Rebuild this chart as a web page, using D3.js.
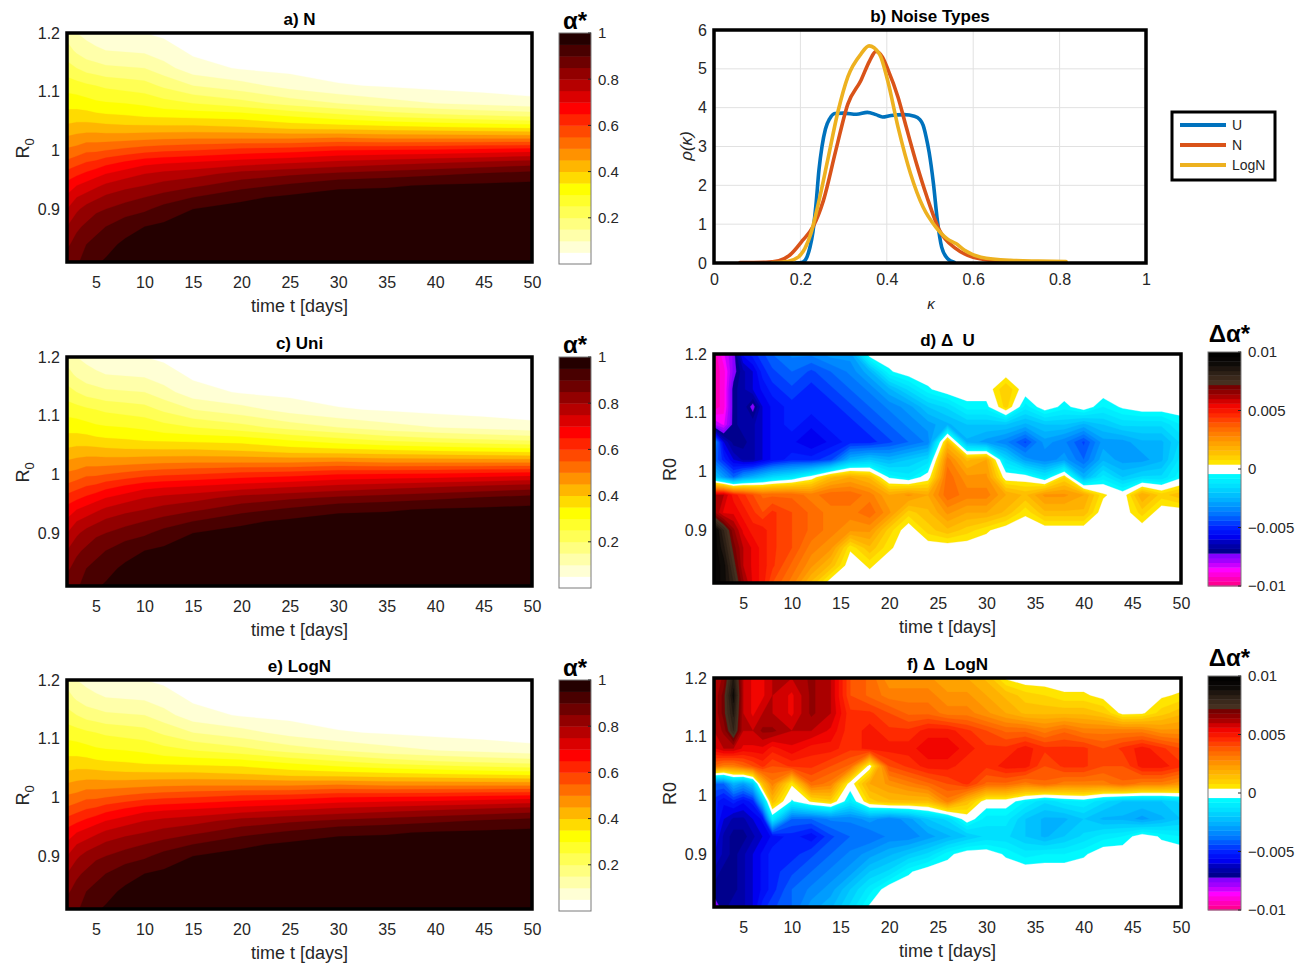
<!DOCTYPE html>
<html>
<head>
<meta charset="utf-8">
<script src="https://cdn.jsdelivr.net/npm/d3@7"></script>
<style>
  body { margin: 0; background: #fff; }
  svg text { font-family: "Liberation Sans", Arial, Helvetica, sans-serif; }
</style>
</head>
<body>
<svg id="fig" width="1297" height="969"></svg>
<script>
// ---------- data ----------
// alpha* grid (panels a, c, e): one column per day in tDays, each column runs over r0Rows (top -> bottom)
const tDays = [2, 3, 4, 5, 6, 8, 10, 12, 15, 20, 25, 30, 35, 40, 45, 50];
const r0Rows = [1.2, 1.17, 1.14, 1.11, 1.08, 1.06, 1.04, 1.02, 1.0, 0.98, 0.96, 0.94, 0.92, 0.9, 0.87, 0.84, 0.81];
const alphaN = [
  [0.13, 0.17, 0.22, 0.28, 0.33, 0.37, 0.41, 0.46, 0.51, 0.56, 0.62, 0.67, 0.71, 0.75, 0.80, 0.84, 0.88],
  [0.10, 0.14, 0.20, 0.27, 0.33, 0.37, 0.42, 0.47, 0.52, 0.58, 0.64, 0.70, 0.75, 0.79, 0.84, 0.87, 0.89],
  [0.085, 0.12, 0.18, 0.26, 0.32, 0.37, 0.42, 0.48, 0.54, 0.60, 0.66, 0.72, 0.77, 0.82, 0.86, 0.90, 0.925],
  [0.07, 0.11, 0.17, 0.25, 0.31, 0.36, 0.42, 0.48, 0.54, 0.61, 0.68, 0.74, 0.79, 0.84, 0.88, 0.92, 0.945],
  [0.065, 0.10, 0.16, 0.24, 0.305, 0.355, 0.415, 0.48, 0.55, 0.63, 0.70, 0.76, 0.81, 0.85, 0.90, 0.935, 0.955],
  [0.055, 0.095, 0.155, 0.23, 0.30, 0.35, 0.41, 0.485, 0.565, 0.655, 0.725, 0.785, 0.83, 0.875, 0.93, 0.96, 0.97],
  [0.05, 0.09, 0.15, 0.22, 0.29, 0.34, 0.41, 0.49, 0.58, 0.68, 0.75, 0.80, 0.85, 0.89, 0.95, 0.97, 0.98],
  [0.04, 0.07, 0.12, 0.19, 0.27, 0.335, 0.41, 0.495, 0.59, 0.69, 0.765, 0.82, 0.87, 0.92, 0.96, 0.975, 0.985],
  [0.03, 0.04, 0.07, 0.15, 0.25, 0.33, 0.41, 0.50, 0.60, 0.70, 0.78, 0.84, 0.90, 0.95, 0.97, 0.98, 0.99],
  [0.01, 0.02, 0.045, 0.12, 0.22, 0.32, 0.40, 0.50, 0.62, 0.72, 0.82, 0.88, 0.94, 0.965, 0.98, 0.99, 0.99],
  [0.005, 0.015, 0.035, 0.08, 0.18, 0.29, 0.38, 0.50, 0.63, 0.74, 0.84, 0.91, 0.96, 0.975, 0.985, 0.99, 0.99],
  [0, 0.01, 0.025, 0.055, 0.15, 0.26, 0.37, 0.51, 0.65, 0.76, 0.86, 0.94, 0.97, 0.98, 0.99, 0.99, 0.99],
  [0, 0.007, 0.02, 0.045, 0.12, 0.23, 0.36, 0.50, 0.655, 0.775, 0.875, 0.945, 0.97, 0.98, 0.99, 0.99, 0.99],
  [0, 0.005, 0.015, 0.035, 0.10, 0.21, 0.35, 0.50, 0.66, 0.79, 0.89, 0.955, 0.975, 0.985, 0.99, 0.99, 0.99],
  [0, 0.003, 0.012, 0.027, 0.085, 0.195, 0.34, 0.50, 0.67, 0.805, 0.905, 0.96, 0.978, 0.988, 0.993, 0.993, 0.993],
  [0, 0, 0.01, 0.02, 0.07, 0.18, 0.33, 0.50, 0.68, 0.82, 0.92, 0.965, 0.98, 0.99, 0.995, 0.995, 0.995]
];
// Uni and LogN differ from N by <= 0.01 (panels d, f), which does not show at this colour step
const alphaUni = alphaN;
const alphaLogN = alphaN;

// delta alpha* grids (panels d, f), in units of 1e-3; rows follow r0Delta, columns follow tDelta
const tDelta = [2, 3, 4, 5, 6, 7, 8, 10, 12, 14, 16, 18, 20, 22, 24, 26, 28, 30, 32, 34, 36, 38, 40, 42, 44, 46, 48, 50];
const r0Delta = [1.2, 1.17, 1.14, 1.11, 1.08, 1.05, 1.02, 0.99, 0.96, 0.93, 0.9, 0.87, 0.84, 0.81];
const deltaU = [
  [-9.5, -8.5, -7.5, -5.5, -5, -4.5, -4, -3.5, -3.5, -3, -3, 0, 0, 0, 0, 0, 0, 0, 0, 0, 0, 0, 0, 0, 0, 0, 0, 0],
  [-9.5, -9, -7.5, -6.5, -6, -5, -4.5, -4, -4.5, -4, -3.5, -2.5, -0.5, 0, 0, 0, 0, 0, 0, 0, 0, 0, 0, 0, 0, 0, 0, 0],
  [-9.5, -9, -7, -6.5, -6, -5.5, -5, -4.5, -5, -4.5, -4, -3.5, -2.5, -1.5, -0.5, 0, 0, 0, 1.2, 0, 0, 0, 0, 0, 0, 0, 0, 0],
  [-9.5, -9, -7, -6.5, -7.5, -6, -5.5, -5, -5, -5, -4.5, -4, -3.5, -3, -2, -1.5, -0.6, -0.6, 1, -1, 0, -0.6, 0, -0.8, -0.3, 0, 0, 0],
  [-8, -8.5, -7, -6.5, -6.5, -6, -5.5, -5, -5.5, -5, -5, -4.5, -4, -3.5, -3, -2.5, -2, -2, -2, -2.5, -2, -2, -2.5, -2, -1.5, -1.5, -1.5, -0.8],
  [-3, -6, -7, -7, -6.5, -6, -5.5, -5.5, -6, -5.5, -5, -5, -4.5, -4, -3.5, 1.5, -2.5, -3, -3.5, -4.5, -3, -3.5, -4.5, -3, -3, -2.5, -2.5, -1.5],
  [-4, -5, -6, -6.5, -6.5, -6, -5.5, -5, -5, -4.5, -2.5, -2, -2.5, -2, -1.5, 3, 1.5, 2, -1.5, -3, -3.5, -3, -4, -2.5, -3, -3, -2.5, -1],
  [-2, -3, -4, -3, -2.5, -2, -1.5, -1, 0, 1.5, 2, 1.5, -0.5, -1, 0, 3.5, 2.5, 2.5, 0, 0, -1, 0.8, -2.5, -1, -2, -1.5, -1.5, -0.5],
  [6, 6, 5, 4.5, 4, 3.5, 3.5, 3.5, 3, 3.5, 3.5, 3, 2, 2.5, 2, 3.5, 3, 3, 2, 1.5, 2.5, 2.5, 2, 0.5, 0, 2, 1, 1.5],
  [6.5, 5.5, 5.5, 5, 4.5, 4, 4.5, 4, 3.5, 3, 3, 3.5, 2.5, 1, 1.5, 2.5, 2, 2, 1.5, 0.5, 1.5, 1.5, 1.5, 0, 0, 1, 0, 0],
  [9.5, 8, 6.5, 5.5, 5, 5, 4.5, 4, 3.5, 3, 2.5, 2.5, 1, 0, 1, 1.5, 1, 0.5, 0, 0, 0, 0, 0, 0, 0, 0, 0, 0],
  [9.5, 8.5, 7, 6, 5.5, 5, 4.5, 4, 3, 2.5, 0.5, 1.5, 0.5, 0, 0, 0, 0, 0, 0, 0, 0, 0, 0, 0, 0, 0, 0, 0],
  [9.5, 9, 7.5, 6, 5.5, 5, 4.5, 3.5, 2.5, 1.5, 0, 0.5, 0, 0, 0, 0, 0, 0, 0, 0, 0, 0, 0, 0, 0, 0, 0, 0],
  [9.5, 9, 8, 6.5, 5.5, 5, 4, 3, 1.5, 0, 0, 0, 0, 0, 0, 0, 0, 0, 0, 0, 0, 0, 0, 0, 0, 0, 0, 0]
];
const deltaLogN = [
  [6, 6.5, 8.5, 6, 5.5, 5.5, 6, 6, 6.5, 6, 4, 3.5, 2.5, 2.5, 2.5, 2, 2, 1.5, 0.3, 0, 0, 0, 0, 0, 0, 0, 0, 0],
  [6, 7, 9, 6, 5.5, 5.5, 6, 5.5, 6.5, 6, 4, 3.5, 3, 3, 3, 2.5, 2.5, 2, 1.5, 1, 0.8, 0.5, 0.5, 0.2, 0, 0, 0.3, 0.5],
  [6, 7, 8.5, 6, 5.5, 6, 6, 5.5, 6.5, 6, 4.5, 4.5, 4, 3.5, 3.5, 3, 3, 2.5, 2, 1.5, 1.5, 1.5, 1.5, 1.2, 0.2, 0.3, 1, 1.5],
  [6, 6.5, 8, 6, 6, 6.5, 6.5, 6, 6, 5.5, 4.5, 5, 4.5, 4.5, 5, 5, 4.5, 4, 3.5, 3.5, 3, 3.5, 3, 3, 3, 3, 2.5, 2.5],
  [5.5, 6, 6, 5.5, 5.5, 5.5, 5, 5.5, 5, 5, 4.5, 5, 5, 5, 5.5, 5.5, 5, 4.5, 4.5, 5, 4.5, 4.5, 4.5, 4, 4.5, 5, 4.5, 4],
  [3.5, 3, 3, 3.5, 4, 4.5, 4, 4.5, 4.5, 4, 3.5, 0, 4, 4.5, 5, 5, 4.5, 4.5, 5, 5, 4, 4.5, 4.5, 4, 4, 5, 5, 4.5],
  [-4, -4, -2.5, -3, -2, 1.5, 3, 0.5, 3.5, 3, 0, 2, 2.5, 3, 3.5, 4, 4.5, 3.5, 3.5, 3, 3.5, 3, 3, 3, 3.5, 3, 3, 2.5],
  [-5, -5.5, -5, -5.5, -5, -2, 1.5, -0.5, 0.5, 1, -1, 1, 1.5, 1.5, 1.5, 3, 1.5, 0, 0, -0.8, -1.5, -1, -0.8, -1.5, -2, -2, -2, -1.5],
  [-5, -6, -6.5, -6.5, -6, -5.5, -1, -4, -4, -3.5, -3.5, -3, -3.5, -3, -2, -1.5, 0, -1, -1, -2, -2.5, -2.5, -2, -2.5, -2.5, -3, -2.5, -2],
  [-5.5, -6.5, -7, -7, -6.5, -6, -5.5, -5, -5.5, -4.5, -4, -4, -3.5, -3.5, -3, -2.5, -2, -1.5, -1.5, -2, -2.5, -2, -1.5, -1, -0.8, 0, -0.5, -0.8],
  [-6, -6.5, -7, -6.5, -6, -5.5, -5, -5, -4.5, -4, -3.5, -3, -2.5, -2, -1.5, -0.6, 0, 0, -0.5, -1, -0.8, -0.8, -0.5, 0, 0, 0, 0, 0],
  [-6.5, -7, -7, -6.5, -6, -5.5, -5, -4.5, -4, -3.5, -3, -2, -1.5, -0.5, 0, 0, 0, 0, 0, 0, 0, 0, 0, 0, 0, 0, 0, 0],
  [-7, -7, -7, -6.5, -6, -5.5, -5, -4, -3.5, -3, -2, -1, 0, 0, 0, 0, 0, 0, 0, 0, 0, 0, 0, 0, 0, 0, 0, 0],
  [-7.5, -7, -6.5, -6.5, -6, -5, -4.5, -4, -3, -2.5, -1.5, -0.3, 0, 0, 0, 0, 0, 0, 0, 0, 0, 0, 0, 0, 0, 0, 0, 0]
];

// noise densities (panel b): [kappa, rho]
const noiseU = [[0.19, 0], [0.205, 0.02], [0.215, 0.15], [0.222, 0.4], [0.229, 0.8], [0.236, 1.5], [0.243, 2.4],
  [0.25, 3.0], [0.258, 3.45], [0.268, 3.72], [0.28, 3.85], [0.3, 3.86], [0.33, 3.83], [0.355, 3.88], [0.375, 3.82],
  [0.39, 3.76], [0.41, 3.8], [0.44, 3.82], [0.464, 3.78], [0.476, 3.7], [0.484, 3.55], [0.491, 3.25], [0.498, 2.85],
  [0.508, 2.04], [0.517, 1.1], [0.527, 0.41], [0.541, 0.11], [0.556, 0.02]];
const noiseN = [[0.06, 0.01], [0.12, 0.02], [0.15, 0.06], [0.175, 0.2], [0.205, 0.58], [0.229, 0.93], [0.253, 1.6],
  [0.282, 2.9], [0.31, 4.1], [0.34, 4.7], [0.36, 5.2], [0.375, 5.45], [0.39, 5.3], [0.402, 5.0], [0.426, 4.27],
  [0.445, 3.5], [0.469, 2.55], [0.493, 1.7], [0.522, 0.84], [0.56, 0.37], [0.6, 0.15], [0.66, 0.05], [0.72, 0.02]];
const noiseLogN = [[0.135, 0.01], [0.17, 0.04], [0.195, 0.15], [0.224, 0.75], [0.243, 1.6], [0.263, 2.64], [0.287, 3.9],
  [0.31, 4.8], [0.34, 5.38], [0.359, 5.59], [0.383, 5.38], [0.402, 4.7], [0.426, 3.5], [0.455, 2.3], [0.484, 1.44],
  [0.513, 0.93], [0.54, 0.62], [0.56, 0.5], [0.58, 0.33], [0.618, 0.15], [0.686, 0.07], [0.75, 0.05], [0.815, 0.04]];

// ticks
const timeTicks = [5, 10, 15, 20, 25, 30, 35, 40, 45, 50];
const r0Ticks = [0.9, 1, 1.1, 1.2];
const alphaTicks = [0.2, 0.4, 0.6, 0.8, 1];
const deltaTicks = [-0.01, -0.005, 0, 0.005, 0.01];
const kappaTicks = [0, 0.2, 0.4, 0.6, 0.8, 1];
const rhoTicks = [0, 1, 2, 3, 4, 5, 6];

// ---------- colours ----------
const INK = '#262626';
function hotFlip(k) { // flipud(hot(20)), band k = [k/20, (k+1)/20]
  const m = 20, n = 7, i = m - k;
  const r = i <= n ? i / n : 1;
  const g = i <= n ? 0 : (i <= 2 * n ? (i - n) / n : 1);
  const b = i <= 2 * n ? 0 : (i - 2 * n) / (m - 2 * n);
  return d3.rgb(r * 255, g * 255, b * 255).formatHex();
}
const deltaStops = [-10, -8.6, -8.0, -7.3, -7.2, -6.2, -5.8, -5.0, -3.9, -2.6, -1.4, -0.4,
  0.4, 1.2, 2.05, 2.9, 3.8, 4.6, 5.5, 6.3, 7.2, 7.25, 8.0, 9.1, 10];
const deltaScale = d3.scaleLinear().domain(deltaStops).range([
  '#ff0080', '#ff00ff', '#b000ff', '#8000ff', '#000080', '#0000c0', '#0000f0', '#0020ff', '#0070ff', '#00b0ff', '#00e0ff', '#00ffff',
  '#ffee00', '#ffc800', '#ffa800', '#ff8400', '#ff5a00', '#ff2a00', '#f00000', '#a00000', '#6a0000', '#4a3322', '#35251a', '#0a0806', '#000000'
]).clamp(true);
const deltaColor = v => Math.abs(v) < 0.4 ? '#ffffff' : deltaScale(v);

const alphaLevels = d3.range(1, 20).map(k => k / 20);
const deltaLevels = d3.range(-24, 25).map(k => k * 0.4);

// ---------- layout ----------
const svg = d3.select('#fig');
const defs = svg.append('defs');
let clipN = 0;

function clipFor(box) {
  const id = 'clip' + (clipN++);
  defs.append('clipPath').attr('id', id).append('rect')
    .attr('x', box.x).attr('y', box.y).attr('width', box.w).attr('height', box.h);
  return `url(#${id})`;
}

function styleAxis(sel, size) {
  sel.attr('font-family', '"Liberation Sans", Arial, sans-serif').attr('font-size', size).attr('color', INK);
  sel.select('.domain').remove();
}

function heatPanel(p) {
  const box = p.box;
  const g = svg.append('g');
  const x = d3.scaleLinear().domain([2, 50]).range([box.x, box.x + box.w]);
  const y = d3.scaleLinear().domain([0.81, 1.2]).range([box.y + box.h, box.y]);
  const ix = d3.scaleLinear().domain(d3.range(p.cols.length)).range(p.cols).clamp(true);
  const iy = d3.scaleLinear().domain(d3.range(p.rows.length)).range(p.rows).clamp(true);
  const path = d3.geoPath(d3.geoTransform({
    point(px, py) { this.stream.point(x(ix(px - 0.5)), y(iy(py - 0.5))); }
  }));
  const fg = g.append('g').attr('clip-path', clipFor(box));
  fg.append('rect').attr('x', box.x).attr('y', box.y).attr('width', box.w).attr('height', box.h)
    .attr('fill', p.base);
  const contours = d3.contours().size([p.cols.length, p.rows.length]).thresholds(p.levels)(p.grid.flat());
  fg.selectAll('path').data(contours).join('path')
    .attr('d', path).attr('fill', d => p.band(d.value))
    .attr('stroke', d => p.band(d.value)).attr('stroke-width', 0.3);

  const ax = g.append('g').attr('transform', `translate(0,${box.y + box.h})`)
    .call(d3.axisBottom(x).tickValues(timeTicks).tickSize(0).tickPadding(15));
  styleAxis(ax, 16);
  const ay = g.append('g').attr('transform', `translate(${box.x},0)`)
    .call(d3.axisLeft(y).tickValues(r0Ticks).tickSize(0).tickPadding(7).tickFormat(d3.format('~g')));
  styleAxis(ay, 16);

  g.append('rect').attr('x', box.x).attr('y', box.y).attr('width', box.w).attr('height', box.h)
    .attr('fill', 'none').attr('stroke', '#000').attr('stroke-width', 3.5);

  g.append('text').attr('x', box.x + box.w / 2).attr('y', box.y - 8).attr('text-anchor', 'middle')
    .attr('font-size', 17).attr('font-weight', 'bold').attr('fill', '#000').attr('xml:space', 'preserve')
    .text(p.title);
  g.append('text').attr('x', box.x + box.w / 2).attr('y', box.y + box.h + 50).attr('text-anchor', 'middle')
    .attr('font-size', 18).attr('fill', INK).text('time t [days]');
  const yl = g.append('text').attr('transform', `translate(${p.ylabX},${y(1.0) - 2}) rotate(-90)`)
    .attr('text-anchor', 'middle').attr('font-size', 18).attr('fill', INK);
  if (p.sub) {
    yl.append('tspan').text('R');
    yl.append('tspan').attr('dy', 5).attr('font-size', 13).text('0');
  } else {
    yl.text('R0');
  }

  // colorbar
  const cb = p.cbar;
  const cy = d3.scaleLinear().domain(cb.domain).range([cb.y + cb.h, cb.y]);
  g.append('g').selectAll('rect').data(cb.bands).join('rect')
    .attr('x', cb.x).attr('width', cb.w)
    .attr('y', d => cy(d[1])).attr('height', d => cy(d[0]) - cy(d[1]) + 0.4)
    .attr('fill', d => d[2]);
  g.append('rect').attr('x', cb.x).attr('y', cb.y).attr('width', cb.w).attr('height', cb.h)
    .attr('fill', 'none').attr('stroke', '#7a7a7a').attr('stroke-width', 1);
  const ac = g.append('g').attr('transform', `translate(${cb.x + cb.w},0)`)
    .call(d3.axisRight(cy).tickValues(cb.ticks).tickSize(0).tickPadding(7).tickFormat(d3.format('~g')));
  styleAxis(ac, 15);
  g.append('g').selectAll('line').data(cb.ticks).join('line')
    .attr('x1', cb.x + cb.w - 3).attr('x2', cb.x + cb.w)
    .attr('y1', d => cy(d)).attr('y2', d => cy(d)).attr('stroke', INK).attr('stroke-width', 1);
  g.append('text').attr('x', cb.x + cb.w / 2 + cb.lblDx).attr('y', cb.y - cb.lblDy).attr('text-anchor', 'middle')
    .attr('font-size', 24).attr('font-weight', 'bold').attr('fill', '#000').text(cb.label);
}

const alphaBands = d3.range(20).map(k => [k / 20, (k + 1) / 20, hotFlip(k)]);
const deltaBands = d3.range(50).map(k => {
  const lo = -10 + 0.4 * k, hi = lo + 0.4;
  return [lo / 1000, hi / 1000, deltaColor((lo + hi) / 2)];
});

function alphaPanel(title, field, top) {
  heatPanel({
    title, box: { x: 67, y: top, w: 465, h: 229 },
    cols: tDays, rows: r0Rows, grid: d3.transpose(field),
    levels: alphaLevels, base: hotFlip(0), band: v => hotFlip(Math.round(v * 20)),
    ylabX: 29, sub: true,
    cbar: { x: 559, y: top, w: 32, h: 231, domain: [0, 1], bands: alphaBands, ticks: alphaTicks, label: 'α*', lblDx: 0, lblDy: 4 }
  });
}
function deltaPanel(title, field, top) {
  heatPanel({
    title, box: { x: 714, y: top, w: 467, h: 229 },
    cols: tDelta, rows: r0Delta, grid: field,
    levels: deltaLevels, base: deltaColor(-9.8), band: v => deltaColor(v + 0.2),
    ylabX: 676, sub: false,
    cbar: { x: 1208, y: top - 2, w: 33, h: 234, domain: [-0.01, 0.01], bands: deltaBands, ticks: deltaTicks, label: 'Δα*', lblDx: 5, lblDy: 10 }
  });
}

alphaPanel('a) N', alphaN, 33);
alphaPanel('c) Uni', alphaUni, 357);
alphaPanel('e) LogN', alphaLogN, 680);
deltaPanel('d) Δ  U', deltaU, 354);
deltaPanel('f) Δ  LogN', deltaLogN, 678);

// ---------- panel b ----------
(function () {
  const box = { x: 714, y: 30, w: 432, h: 233 };
  const g = svg.append('g');
  const x = d3.scaleLinear().domain([0, 1]).range([box.x, box.x + box.w]);
  const y = d3.scaleLinear().domain([0, 6]).range([box.y + box.h, box.y]);

  g.append('g').selectAll('line.v').data(kappaTicks.slice(1, -1)).join('line')
    .attr('x1', d => x(d)).attr('x2', d => x(d)).attr('y1', box.y).attr('y2', box.y + box.h)
    .attr('stroke', '#e1e1e1').attr('stroke-width', 1);
  g.append('g').selectAll('line.h').data(rhoTicks.slice(1, -1)).join('line')
    .attr('y1', d => y(d)).attr('y2', d => y(d)).attr('x1', box.x).attr('x2', box.x + box.w)
    .attr('stroke', '#e1e1e1').attr('stroke-width', 1);

  const line = d3.line().x(d => x(d[0])).y(d => y(d[1])).curve(d3.curveMonotoneX);
  const series = [
    { name: 'U', data: noiseU, color: '#0072BD' },
    { name: 'N', data: noiseN, color: '#D95319' },
    { name: 'LogN', data: noiseLogN, color: '#EDB120' }
  ];
  g.append('g').attr('clip-path', clipFor(box)).selectAll('path').data(series).join('path')
    .attr('d', d => line(d.data)).attr('fill', 'none').attr('stroke', d => d.color)
    .attr('stroke-width', 3.6).attr('stroke-linejoin', 'round').attr('stroke-linecap', 'round');

  const ax = g.append('g').attr('transform', `translate(0,${box.y + box.h})`)
    .call(d3.axisBottom(x).tickValues(kappaTicks).tickSize(0).tickPadding(11).tickFormat(d3.format('~g')));
  styleAxis(ax, 16);
  const ay = g.append('g').attr('transform', `translate(${box.x},0)`)
    .call(d3.axisLeft(y).tickValues(rhoTicks).tickSize(0).tickPadding(7).tickFormat(d3.format('~g')));
  styleAxis(ay, 16);

  g.append('rect').attr('x', box.x).attr('y', box.y).attr('width', box.w).attr('height', box.h)
    .attr('fill', 'none').attr('stroke', '#000').attr('stroke-width', 3.5);

  g.append('text').attr('x', box.x + box.w / 2).attr('y', 22).attr('text-anchor', 'middle')
    .attr('font-size', 17).attr('font-weight', 'bold').attr('fill', '#000').text('b) Noise Types');
  g.append('text').attr('x', 931).attr('y', 309).attr('text-anchor', 'middle')
    .attr('font-family', '"DejaVu Serif", "Liberation Serif", serif').attr('font-style', 'italic')
    .attr('font-size', 15).attr('fill', INK).text('κ');
  g.append('text').attr('transform', 'translate(692,146) rotate(-90)').attr('text-anchor', 'middle')
    .attr('font-family', '"Liberation Serif", serif').attr('font-style', 'italic')
    .attr('font-size', 17).attr('fill', INK).text('ρ(κ)');

  // legend
  const lg = g.append('g');
  lg.append('rect').attr('x', 1172).attr('y', 112).attr('width', 103).attr('height', 68)
    .attr('fill', '#fff').attr('stroke', '#000').attr('stroke-width', 3);
  series.forEach((s, i) => {
    const yy = 125 + i * 20;
    lg.append('line').attr('x1', 1180).attr('x2', 1226).attr('y1', yy).attr('y2', yy)
      .attr('stroke', s.color).attr('stroke-width', 4);
    lg.append('text').attr('x', 1232).attr('y', yy + 5).attr('font-size', 14).attr('fill', INK).text(s.name);
  });
})();
</script>
</body>
</html>
